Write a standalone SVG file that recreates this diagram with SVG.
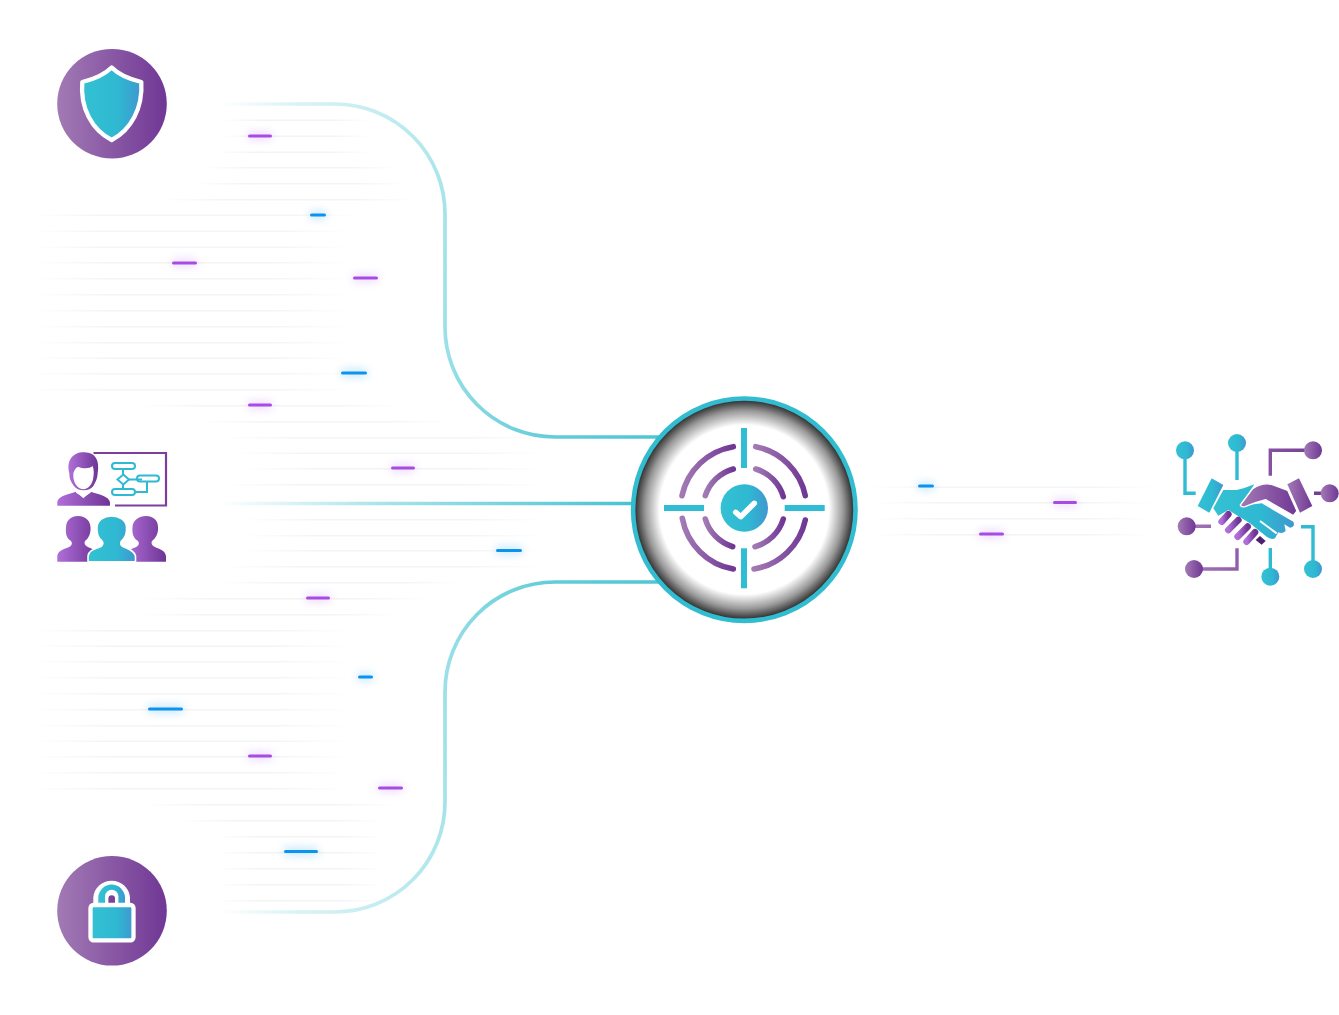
<svg xmlns="http://www.w3.org/2000/svg" width="1339" height="1015" viewBox="0 0 1339 1015">
<defs>
<linearGradient id="pur"><stop offset="0" stop-color="#a27ab4"/><stop offset="1" stop-color="#703795"/></linearGradient>
<linearGradient id="pur2"><stop offset="0" stop-color="#b06fd8"/><stop offset="1" stop-color="#6e3595"/></linearGradient>
<linearGradient id="teal"><stop offset="0" stop-color="#33c1d3"/><stop offset=".6" stop-color="#2fb8d2"/><stop offset="1" stop-color="#3f97cf"/></linearGradient>
<linearGradient id="hp" gradientUnits="userSpaceOnUse" x1="1176" y1="0" x2="1339" y2="0"><stop offset="0" stop-color="#a87ab8"/><stop offset="1" stop-color="#6c3391"/></linearGradient>
<linearGradient id="grid"><stop offset="0" stop-color="#ccc" stop-opacity="0"/><stop offset=".25" stop-color="#ccc" stop-opacity=".22"/><stop offset=".75" stop-color="#ccc" stop-opacity=".22"/><stop offset="1" stop-color="#ccc" stop-opacity="0"/></linearGradient>
<linearGradient id="cTop" gradientUnits="userSpaceOnUse" x1="220" y1="104" x2="660" y2="437"><stop offset="0" stop-color="#fff"/><stop offset=".12" stop-color="#d6f2f5"/><stop offset=".45" stop-color="#a4e3e9"/><stop offset=".6" stop-color="#9ae0e8"/><stop offset=".85" stop-color="#62ccd9"/><stop offset="1" stop-color="#4ec5d4"/></linearGradient>
<linearGradient id="cBot" gradientUnits="userSpaceOnUse" x1="220" y1="912" x2="660" y2="582"><stop offset="0" stop-color="#fff"/><stop offset=".12" stop-color="#d6f2f5"/><stop offset=".45" stop-color="#a4e3e9"/><stop offset=".6" stop-color="#9ae0e8"/><stop offset=".85" stop-color="#62ccd9"/><stop offset="1" stop-color="#4ec5d4"/></linearGradient>
<linearGradient id="cMid" gradientUnits="userSpaceOnUse" x1="220" y1="0" x2="632" y2="0"><stop offset="0" stop-color="#fff"/><stop offset=".4" stop-color="#a6e3ea"/><stop offset="1" stop-color="#48c2d2"/></linearGradient>
<radialGradient id="well" cx=".5" cy=".5" r=".5"><stop offset=".76" stop-color="#fff"/><stop offset=".89" stop-color="#999"/><stop offset="1" stop-color="#1e1e1e"/></radialGradient>
<filter id="glow" x="-60%" y="-800%" width="220%" height="1700%"><feGaussianBlur stdDeviation="5"/></filter>
</defs>
<style>
.g{fill:url(#grid)}
.c{fill:none;stroke-width:3.7}
.dp{fill:#a74be6}
.db{fill:#0a94f0}
.gp{fill:#b35cf0;opacity:.3;filter:url(#glow)}
.gb{fill:#0a94f0;opacity:.3;filter:url(#glow)}
.ln{fill:none;stroke-width:3.4}
.arc{fill:none;stroke:url(#pur);stroke-width:5.6;stroke-linecap:round}
.bar{fill:#30bcd2}
.t{stroke:#2fbad2;fill:none;stroke-width:2}
.kn{fill:none;stroke:url(#pur2);stroke-width:20;stroke-linecap:round}
</style>
<rect width="1339" height="1015" fill="#fff"/>
<g id="grid-lines">
<rect class="g" x="220" y="119.500" width="150" height="1.500"/><rect class="g" x="220" y="135.500" width="150" height="1.500"/><rect class="g" x="215" y="151.500" width="155" height="1.500"/><rect class="g" x="200" y="167" width="200" height="1.500"/><rect class="g" x="190" y="183" width="220" height="1.500"/><rect class="g" x="160" y="199" width="260" height="1.500"/>
<rect class="g" x="30" y="214.500" width="330" height="1.500"/><rect class="g" x="30" y="230.500" width="320" height="1.500"/><rect class="g" x="30" y="246.500" width="320" height="1.500"/><rect class="g" x="30" y="262" width="320" height="1.500"/><rect class="g" x="30" y="278" width="320" height="1.500"/><rect class="g" x="30" y="294" width="320" height="1.500"/><rect class="g" x="30" y="310" width="320" height="1.500"/><rect class="g" x="30" y="326" width="320" height="1.500"/><rect class="g" x="30" y="342" width="320" height="1.500"/><rect class="g" x="30" y="357.500" width="320" height="1.500"/><rect class="g" x="30" y="373" width="320" height="1.500"/><rect class="g" x="30" y="389" width="320" height="1.500"/>
<rect class="g" x="140" y="405" width="260" height="1.500"/><rect class="g" x="200" y="421" width="250" height="1.500"/><rect class="g" x="220" y="437" width="325" height="1.500"/><rect class="g" x="230" y="452.500" width="315" height="1.500"/><rect class="g" x="240" y="468" width="305" height="1.500"/><rect class="g" x="220" y="484" width="325" height="1.500"/><rect class="g" x="240" y="519" width="305" height="1.500"/><rect class="g" x="240" y="535" width="305" height="1.500"/><rect class="g" x="240" y="550" width="305" height="1.500"/><rect class="g" x="220" y="566" width="325" height="1.500"/><rect class="g" x="220" y="582" width="240" height="1.500"/>
<rect class="g" x="140" y="598" width="290" height="1.500"/><rect class="g" x="140" y="614" width="260" height="1.500"/>
<rect class="g" x="30" y="630" width="320" height="1.500"/><rect class="g" x="30" y="645.500" width="320" height="1.500"/><rect class="g" x="30" y="661" width="320" height="1.500"/><rect class="g" x="30" y="677" width="320" height="1.500"/><rect class="g" x="30" y="693" width="320" height="1.500"/><rect class="g" x="30" y="709" width="320" height="1.500"/><rect class="g" x="30" y="725" width="320" height="1.500"/><rect class="g" x="30" y="740.500" width="320" height="1.500"/><rect class="g" x="30" y="756" width="320" height="1.500"/><rect class="g" x="30" y="772" width="320" height="1.500"/><rect class="g" x="30" y="788" width="320" height="1.500"/>
<rect class="g" x="140" y="804" width="260" height="1.500"/><rect class="g" x="180" y="820" width="205" height="1.500"/><rect class="g" x="215" y="836" width="170" height="1.500"/><rect class="g" x="215" y="852" width="170" height="1.500"/><rect class="g" x="215" y="868" width="170" height="1.500"/><rect class="g" x="215" y="884" width="170" height="1.500"/><rect class="g" x="215" y="900" width="170" height="1.500"/>
<rect class="g" x="870" y="486.500" width="285" height="1.500"/><rect class="g" x="870" y="502" width="285" height="1.500"/><rect class="g" x="870" y="518" width="285" height="1.500"/><rect class="g" x="870" y="534" width="285" height="1.500"/>
</g>
<g id="connectors">
<path class="c" stroke="url(#cTop)" d="M220 104H335A110 110 0 0 1 445 214V327A110 110 0 0 0 555 437H660"/>
<path class="c" stroke="url(#cMid)" d="M220 503.500H634"/>
<path class="c" stroke="url(#cBot)" d="M660 582H555A110 110 0 0 0 445 692V802A110 110 0 0 1 335 912H220"/>
</g>
<g id="pulses">
<rect class="gp" x="248" y="133" width="24" height="6"/><rect class="dp" x="248" y="134.500" width="24" height="3" rx="1.500"/>
<rect class="gb" x="310" y="212" width="16" height="6"/><rect class="db" x="310" y="213.500" width="16" height="3" rx="1.500"/>
<rect class="gp" x="172" y="260" width="25" height="6"/><rect class="dp" x="172" y="261.500" width="25" height="3" rx="1.500"/>
<rect class="gp" x="353" y="275" width="25" height="6"/><rect class="dp" x="353" y="276.500" width="25" height="3" rx="1.500"/>
<rect class="gb" x="341" y="370" width="26" height="6"/><rect class="db" x="341" y="371.500" width="26" height="3" rx="1.500"/>
<rect class="gp" x="248" y="402" width="24" height="6"/><rect class="dp" x="248" y="403.500" width="24" height="3" rx="1.500"/>
<rect class="gp" x="391" y="465" width="24" height="6"/><rect class="dp" x="391" y="466.500" width="24" height="3" rx="1.500"/>
<rect class="gb" x="496" y="547.500" width="26" height="6"/><rect class="db" x="496" y="549" width="26" height="3" rx="1.500"/>
<rect class="gp" x="306" y="595" width="24" height="6"/><rect class="dp" x="306" y="596.500" width="24" height="3" rx="1.500"/>
<rect class="gb" x="358" y="674" width="15" height="6"/><rect class="db" x="358" y="675.500" width="15" height="3" rx="1.500"/>
<rect class="gb" x="148" y="706" width="35" height="6"/><rect class="db" x="148" y="707.500" width="35" height="3" rx="1.500"/>
<rect class="gp" x="248" y="753" width="24" height="6"/><rect class="dp" x="248" y="754.500" width="24" height="3" rx="1.500"/>
<rect class="gp" x="378" y="785" width="25" height="6"/><rect class="dp" x="378" y="786.500" width="25" height="3" rx="1.500"/>
<rect class="gb" x="284" y="848.500" width="34" height="6"/><rect class="db" x="284" y="850" width="34" height="3" rx="1.500"/>
<rect class="gb" x="918" y="483" width="16" height="6"/><rect class="db" x="918" y="484.500" width="16" height="3" rx="1.500"/>
<rect class="gp" x="1053" y="499.500" width="24" height="6"/><rect class="dp" x="1053" y="501" width="24" height="3" rx="1.500"/>
<rect class="gp" x="979" y="531" width="25" height="6"/><rect class="dp" x="979" y="532.500" width="25" height="3" rx="1.500"/>
</g>
<g id="shield">
<circle cx="112" cy="103.700" r="54.800" fill="url(#pur)"/>
<path d="M111.700 67.500C118 74 129 79 141.300 82C143 108 131 130 111.700 140C92 130 80 108 82.300 82C95 79 105 74 111.700 67.500Z" fill="url(#teal)" stroke="#fff" stroke-width="4.300" stroke-linejoin="round"/>
</g>
<g id="lock">
<circle cx="112" cy="910.800" r="54.800" fill="url(#pur)"/>
<path d="M93.300 905V897.500A18.400 18.200 0 0 1 130 897.500V905Z" fill="#fff"/>
<path d="M98.300 905V897A13.400 13.600 0 0 1 125 897V905Z" fill="url(#teal)"/>
<path d="M105 907V896.500A6.700 6.700 0 0 1 118.400 896.500V907Z" fill="#fff"/>
<path d="M108.400 903V898.500A3.300 3.300 0 0 1 115 898.500V903Z" fill="#7a4398"/>
<rect x="90.500" y="905" width="43" height="35.300" rx="3" fill="url(#teal)" stroke="#fff" stroke-width="4.300"/>
</g>
<g id="team">
<path d="M93.500 453H166V505.500H115" fill="none" stroke="#7c3f9e" stroke-width="2.200"/>
<g transform="translate(40 440) scale(.3333)">
<path d="M52 197V185C55 170 75 165 108 155L130 175L152 155C185 165 207 170 210 187V197Z" fill="url(#pur2)"/>
<path d="M88 100C78 60 100 37 130 37C165 35 180 60 173 100C172 120 165 128 160 138C150 155 112 155 102 138C95 128 88 120 88 100Z" fill="url(#pur2)"/>
<path d="M100 100C103 90 108 82 115 80C130 88 150 85 158 78C162 90 162 100 160 112C158 132 145 148 130 148C115 148 102 132 100 112Z" fill="#fff"/>
<path d="M108 148C118 158 142 158 152 148L152 158L130 172L108 158Z" fill="#fff"/>
</g>
<path class="t" d="M123 469.500V474M123 485V489M129 479.500H142M147 482V492H135"/>
<rect class="t" x="112" y="463" width="23" height="6" rx="3"/>
<path class="t" d="M123.300 474.500L129 479.500L123.300 484.500L117.500 479.500Z"/>
<rect class="t" x="137" y="475.500" width="22" height="6" rx="3"/>
<rect class="t" x="112" y="489" width="23" height="6" rx="3"/>
<g fill="url(#pur2)">
<path d="M57.300 561.700V556C58 550 65 549 70 546.500C72 545 72.500 543 71 541C66 538 65.500 533 66 527C66.500 520 71 516 78 516C85 516 90 520 90.500 527C91 533 89 538 85 541C84 543 84.500 545 87 546.500C92 549 97 550 98 556V561.700Z"/>
<path d="M125 561.700V556C126 550 132 549 137 546.500C139 545 139.500 543 138 541C133 538 132 533 132.500 527C133 520 139 516 146 516C153 516 158 520 158 527C158.500 533 156 538 152 541C151 543 151.500 545 154 546.500C159 549 165 550 166 556V561.700Z"/>
</g>
<path d="M88 561.700V556C89 550 95 549 101 546.500C103 545 103.500 543 102 541C98 538 96.500 533 97 527C97.500 520 104 516 111.700 516C119 516 126 520 126.500 527C127 533 125 538 121.500 541C120 543 120.500 545 123 546.500C128 549 134 550 135.500 556V561.700Z" fill="url(#teal)" stroke="#fff" stroke-width="1.600"/>
</g>
<g id="target">
<circle cx="744.300" cy="509.700" r="111.200" fill="url(#well)" stroke="#32bccf" stroke-width="4.600"/>
<rect class="bar" x="741" y="428" width="6" height="40"/><rect class="bar" x="741" y="548.300" width="6" height="40"/>
<rect class="bar" x="664" y="505" width="40" height="6"/><rect class="bar" x="784.700" y="505" width="40" height="6"/>
<path class="arc" d="M682 495.700A63 63 0 0 1 733.300 446.700"/>
<path class="arc" d="M755.700 446.700A63 63 0 0 1 805.300 495.700"/>
<path class="arc" d="M682.300 518.300A63 63 0 0 0 733.300 569"/>
<path class="arc" d="M754 569A63 63 0 0 0 805.300 520"/>
<path class="arc" d="M705.300 495.700A41 41 0 0 1 733.300 469"/>
<path class="arc" d="M755.700 469A41 41 0 0 1 783.300 496.700"/>
<path class="arc" d="M705.300 519A41 41 0 0 0 732.700 546.700"/>
<path class="arc" d="M755 546.700A41 41 0 0 0 783.300 519"/>
<circle cx="744.300" cy="508" r="23.700" fill="url(#teal)"/>
<path d="M735.700 512.300L740.700 516.700L754.300 503.300" fill="none" stroke="#fff" stroke-width="5.500" stroke-linecap="round" stroke-linejoin="round"/>
</g>
<g id="handshake">
<path class="ln" stroke="#2fbcd2" d="M1185 450.300V493.300H1195.700M1237 443V480M1270.300 576.700V548M1313 569V526.700H1301"/>
<path class="ln" stroke="url(#hp)" d="M1313 450.300H1270.300V475.700M1329.700 493.300H1314M1186.700 526.300H1211M1194 569H1237V548.300"/>
<g fill="url(#teal)"><circle cx="1185" cy="450.300" r="9"/><circle cx="1237" cy="443" r="9"/><circle cx="1270.300" cy="576.700" r="9"/><circle cx="1313" cy="569" r="9"/></g>
<g fill="url(#pur)"><circle cx="1313" cy="450.300" r="9"/><circle cx="1329.700" cy="493.300" r="9"/><circle cx="1186.700" cy="526.300" r="9"/><circle cx="1194" cy="569" r="9"/></g>
<g transform="translate(1165 425) scale(.3333)">
<path d="M140 160L175 180L133 263L98 243Z" fill="url(#teal)"/>
<path d="M367 178L402 160L442 243L405 263Z" fill="url(#pur)"/>
<path d="M145 250L175 195L215 195Q240 190 268 178L226 243L290 235L385 290Q392 305 375 308L358 298L362 318Q352 328 340 322L330 340Q318 345 305 335L255 295L190 255L160 272Z" fill="url(#teal)"/>
<path d="M226 240L262 192Q290 172 320 178L368 196L396 258L385 272L302 224Q270 232 240 245Q228 248 226 240Z" fill="url(#pur)" stroke="#fff" stroke-width="4"/>
<path d="M285 288L335 325" stroke="#fff" stroke-width="6" fill="none"/>
<path class="kn" d="M170 290L190 268"/><path class="kn" d="M190 315L220 285"/><path class="kn" d="M218 335L248 305"/><path class="kn" d="M245 350L270 322"/>
<path d="M272 345L285 333L302 348L290 359Z" fill="#4f1f70"/>
</g>
</g>
</svg>
